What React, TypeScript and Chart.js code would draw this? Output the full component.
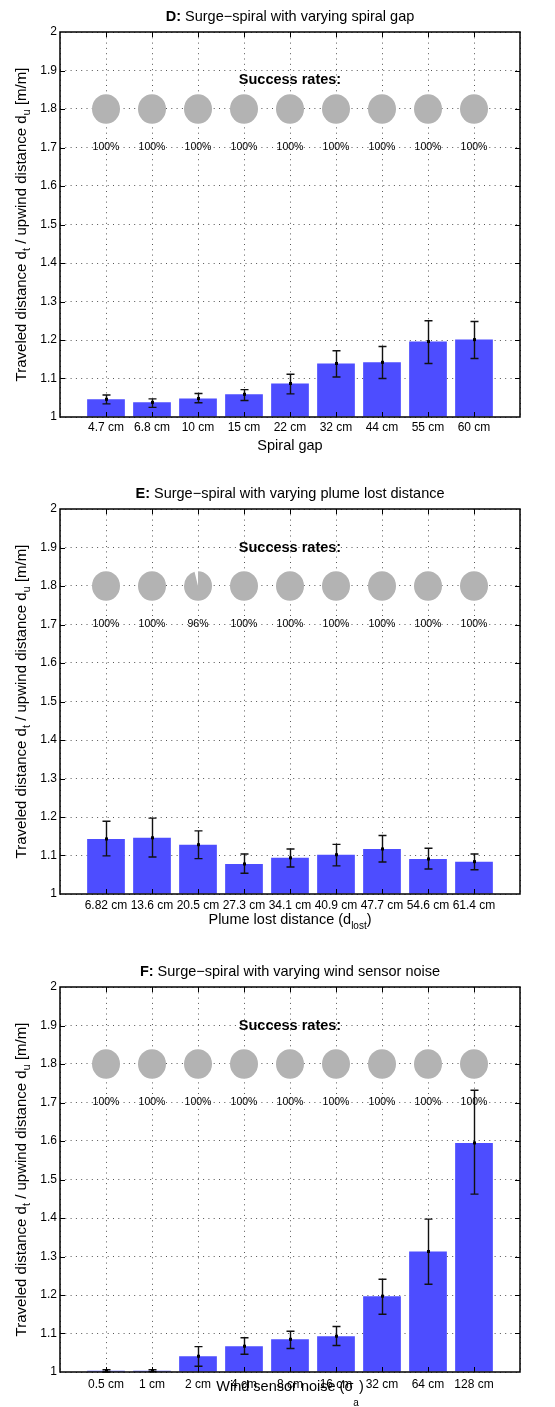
import React, { useEffect, useRef } from 'react';
import { Chart, registerables } from 'chart.js';

Chart.register(...registerables);

const FONT = '"Liberation Sans", Arial, Helvetica, sans-serif';

// ---------- data ----------
const yTickLabels = ['1', '1.1', '1.2', '1.3', '1.4', '1.5', '1.6', '1.7', '1.8', '1.9', '2'];

const spiralGapLabels = ['4.7 cm', '6.8 cm', '10 cm', '15 cm', '22 cm', '32 cm', '44 cm', '55 cm', '60 cm'];
const spiralGapMeans = [1.046, 1.038, 1.048, 1.059, 1.087, 1.139, 1.142, 1.196, 1.201];
const spiralGapLow = [1.034, 1.025, 1.037, 1.043, 1.060, 1.104, 1.100, 1.139, 1.152];
const spiralGapHigh = [1.057, 1.047, 1.061, 1.071, 1.111, 1.172, 1.183, 1.250, 1.248];
const spiralGapSuccess = [100, 100, 100, 100, 100, 100, 100, 100, 100];

const plumeLostLabels = ['6.82 cm', '13.6 cm', '20.5 cm', '27.3 cm', '34.1 cm', '40.9 cm', '47.7 cm', '54.6 cm', '61.4 cm'];
const plumeLostMeans = [1.143, 1.146, 1.128, 1.078, 1.094, 1.102, 1.117, 1.091, 1.084];
const plumeLostLow = [1.099, 1.096, 1.092, 1.054, 1.070, 1.073, 1.083, 1.065, 1.063];
const plumeLostHigh = [1.189, 1.197, 1.164, 1.104, 1.117, 1.129, 1.152, 1.119, 1.104];
const plumeLostSuccess = [100, 100, 96, 100, 100, 100, 100, 100, 100];

const noiseLabels = ['0.5 cm', '1 cm', '2 cm', '4 cm', '8 cm', '16 cm', '32 cm', '64 cm', '128 cm'];
const noiseMeans = [1.003, 1.003, 1.041, 1.067, 1.085, 1.093, 1.197, 1.313, 1.595];
const noiseLow = [1.000, 1.001, 1.015, 1.046, 1.061, 1.069, 1.150, 1.228, 1.462];
const noiseHigh = [1.006, 1.006, 1.066, 1.089, 1.106, 1.118, 1.241, 1.397, 1.732];
const noiseSuccess = [100, 100, 100, 100, 100, 100, 100, 100, 100];

const PIE_Y = 1.8;
const PCT_Y = 1.7;

type Part = { t: string; b?: boolean; sub?: boolean; dy?: number };

type Panel = {
  title: Part[];
  labels: string[];
  means: number[];
  low: number[];
  high: number[];
  success: number[];
  xTitle: Part[];
  xTitleBase: number;
  successY: number;
  top: number;
  height: number;
  tickPad: number;
};

const yTitle: Part[] = [
  { t: 'Traveled distance d' },
  { t: 't', sub: true, dy: 4 },
  { t: ' / upwind distance d' },
  { t: 'u', sub: true, dy: 4 },
  { t: ' [m/m]' },
];

const panels: Panel[] = [
  {
    title: [{ t: 'D:', b: true }, { t: ' Surge\u2212spiral with varying spiral gap' }],
    labels: spiralGapLabels,
    means: spiralGapMeans,
    low: spiralGapLow,
    high: spiralGapHigh,
    success: spiralGapSuccess,
    xTitle: [{ t: 'Spiral gap' }],
    xTitleBase: 450,
    successY: 1.875,
    top: 0,
    height: 477,
    tickPad: 3,
  },
  {
    title: [{ t: 'E:', b: true }, { t: ' Surge\u2212spiral with varying plume lost distance' }],
    labels: plumeLostLabels,
    means: plumeLostMeans,
    low: plumeLostLow,
    high: plumeLostHigh,
    success: plumeLostSuccess,
    xTitle: [{ t: 'Plume lost distance (d' }, { t: 'lost', sub: true, dy: 5 }, { t: ')' }],
    xTitleBase: 447,
    successY: 1.9,
    top: 477,
    height: 477,
    tickPad: 4,
  },
  {
    title: [{ t: 'F:', b: true }, { t: ' Surge\u2212spiral with varying wind sensor noise' }],
    labels: noiseLabels,
    means: noiseMeans,
    low: noiseLow,
    high: noiseHigh,
    success: noiseSuccess,
    xTitle: [{ t: 'Wind sensor noise (\u03c3' }, { t: 'a', sub: true, dy: 15 }, { t: ')' }],
    xTitleBase: 436,
    successY: 1.9,
    top: 955,
    height: 452,
    tickPad: 5,
  },
];

function fontFor(p: Part, size: number) {
  const s = p.sub ? Math.round(size * 0.72) : size;
  return `${p.b ? 'bold ' : ''}${s}px ${FONT}`;
}

function drawRich(ctx: CanvasRenderingContext2D, parts: Part[], x: number, y: number, size: number) {
  const widths = parts.map((p) => {
    ctx.font = fontFor(p, size);
    return ctx.measureText(p.t).width;
  });
  const total = widths.reduce((a, b) => a + b, 0);
  let cx = x - total / 2;
  ctx.textAlign = 'left';
  ctx.textBaseline = 'alphabetic';
  parts.forEach((p, i) => {
    ctx.font = fontFor(p, size);
    ctx.fillText(p.t, cx, y + (p.sub ? p.dy ?? 4 : 0));
    cx += widths[i];
  });
}

function makeOverlay(p: Panel) {
  return {
    id: 'overlay',
    afterDatasetsDraw(chart: any) {
      const { ctx, chartArea: a, scales } = chart;
      const x = scales.x;
      const y = scales.y;
      ctx.save();
      // success rates heading
      ctx.fillStyle = '#000';
      ctx.font = `bold 14.5px ${FONT}`;
      ctx.textAlign = 'center';
      ctx.textBaseline = 'middle';
      ctx.fillText('Success rates:', (a.left + a.right) / 2, y.getPixelForValue(p.successY));
      // pies
      p.success.forEach((r, i) => {
        const cx = x.getPixelForValue(i + 1);
        const cy = y.getPixelForValue(PIE_Y);
        ctx.fillStyle = '#b3b3b3';
        ctx.beginPath();
        if (r >= 100) {
          ctx.ellipse(cx, cy, 14, 14.7, 0, 0, Math.PI * 2);
        } else {
          ctx.moveTo(cx, cy);
          ctx.ellipse(cx, cy, 14, 14.7, 0, -Math.PI / 2, -Math.PI / 2 + (Math.PI * 2 * r) / 100);
          ctx.closePath();
        }
        ctx.fill();
        ctx.fillStyle = '#000';
        ctx.font = `10.5px ${FONT}`;
        ctx.textAlign = 'center';
        ctx.textBaseline = 'middle';
        ctx.fillText(`${r}%`, cx, y.getPixelForValue(PCT_Y));
      });
      // error bars
      ctx.strokeStyle = '#111';
      ctx.lineWidth = 1.4;
      p.means.forEach((m, i) => {
        const cx = Math.round(x.getPixelForValue(i + 1)) + 0.5;
        const yl = y.getPixelForValue(p.low[i]);
        const yh = y.getPixelForValue(p.high[i]);
        ctx.beginPath();
        ctx.moveTo(cx, yl);
        ctx.lineTo(cx, yh);
        ctx.moveTo(cx - 4, yl);
        ctx.lineTo(cx + 4, yl);
        ctx.moveTo(cx - 4, yh);
        ctx.lineTo(cx + 4, yh);
        ctx.stroke();
        ctx.fillStyle = '#000';
        ctx.fillRect(cx - 1.5, y.getPixelForValue(m) - 1.5, 3, 3);
      });
      // inward ticks
      ctx.strokeStyle = '#000';
      ctx.lineWidth = 1;
      ctx.beginPath();
      x.ticks.forEach((t: any) => {
        if (t.value <= 0 || t.value >= 10) return;
        const px = Math.round(x.getPixelForValue(t.value)) + 0.5;
        ctx.moveTo(px, a.bottom);
        ctx.lineTo(px, a.bottom - 5);
        ctx.moveTo(px, a.top);
        ctx.lineTo(px, a.top + 5);
      });
      y.ticks.forEach((t: any) => {
        if (t.value <= 1.0001 || t.value >= 1.9999) return;
        const py = Math.round(y.getPixelForValue(t.value)) + 0.5;
        ctx.moveTo(a.left, py);
        ctx.lineTo(a.left + 5, py);
        ctx.moveTo(a.right, py);
        ctx.lineTo(a.right - 5, py);
      });
      ctx.stroke();
      // frame
      ctx.lineWidth = 1.5;
      ctx.strokeRect(a.left, a.top, a.right - a.left, a.bottom - a.top);
      ctx.restore();
    },
    afterDraw(chart: any) {
      const { ctx, chartArea: a } = chart;
      ctx.save();
      ctx.fillStyle = '#000';
      const midX = (a.left + a.right) / 2;
      drawRich(ctx, p.title, midX, 21, 14.5);
      drawRich(ctx, p.xTitle, midX, p.xTitleBase, 14.5);
      ctx.translate(26, (a.top + a.bottom) / 2);
      ctx.rotate(-Math.PI / 2);
      drawRich(ctx, yTitle, 0, 0, 15);
      ctx.restore();
    },
  };
}

function PanelChart({ p }: { p: Panel }) {
  const ref = useRef<HTMLCanvasElement | null>(null);
  useEffect(() => {
    if (!ref.current) return;
    const chart = new Chart(ref.current, {
      type: 'bar',
      data: {
        datasets: [
          {
            data: p.means.map((v, i) => ({ x: i + 1, y: v })),
            backgroundColor: 'rgb(77,77,255)',
            borderWidth: 0,
            barPercentage: 0.82,
            categoryPercentage: 1,
            base: 1,
          } as any,
        ],
      },
      options: {
        animation: false,
        responsive: false,
        devicePixelRatio: 1,
        layout: { padding: { left: 0, right: 35, top: 32, bottom: 0 } },
        plugins: { legend: { display: false }, tooltip: { enabled: false }, title: { display: false } },
        scales: {
          x: {
            type: 'linear',
            min: 0,
            max: 10,
            offset: false,
            grid: { offset: false, color: '#555', drawTicks: false, lineWidth: 1 },
            border: { display: false, dash: [1, 4.3] },
            ticks: {
              stepSize: 1,
              autoSkip: false,
              maxRotation: 0,
              minRotation: 0,
              padding: p.tickPad,
              color: '#000',
              font: { family: FONT, size: 12 },
              callback: (v: any) => (v >= 1 && v <= 9 ? p.labels[Math.round(v) - 1] : ''),
            },
            afterFit: (s: any) => {
              s.height = p.height - 417;
            },
          } as any,
          y: {
            type: 'linear',
            min: 1,
            max: 2,
            grid: { color: '#555', drawTicks: false, lineWidth: 1 },
            border: { display: false, dash: [1, 4.3] },
            ticks: {
              stepSize: 0.1,
              padding: 3,
              color: '#000',
              font: { family: FONT, size: 12 },
              callback: (v: any) => yTickLabels[Math.round((v - 1) * 10)] ?? '',
            },
            afterFit: (s: any) => {
              s.width = 60;
            },
          } as any,
        },
      },
      plugins: [makeOverlay(p)],
    });
    return () => chart.destroy();
  }, [p]);
  return (
    <canvas
      ref={ref}
      width={555}
      height={p.height}
      style={{ position: 'absolute', left: 0, top: p.top, width: 555, height: p.height, display: 'block' }}
    />
  );
}

export default function App() {
  return (
    <div style={{ position: 'absolute', left: 0, top: 0, width: 555, height: 1407, background: '#fff', overflow: 'hidden' }}>
      {panels.map((p, i) => (
        <PanelChart key={i} p={p} />
      ))}
    </div>
  );
}
